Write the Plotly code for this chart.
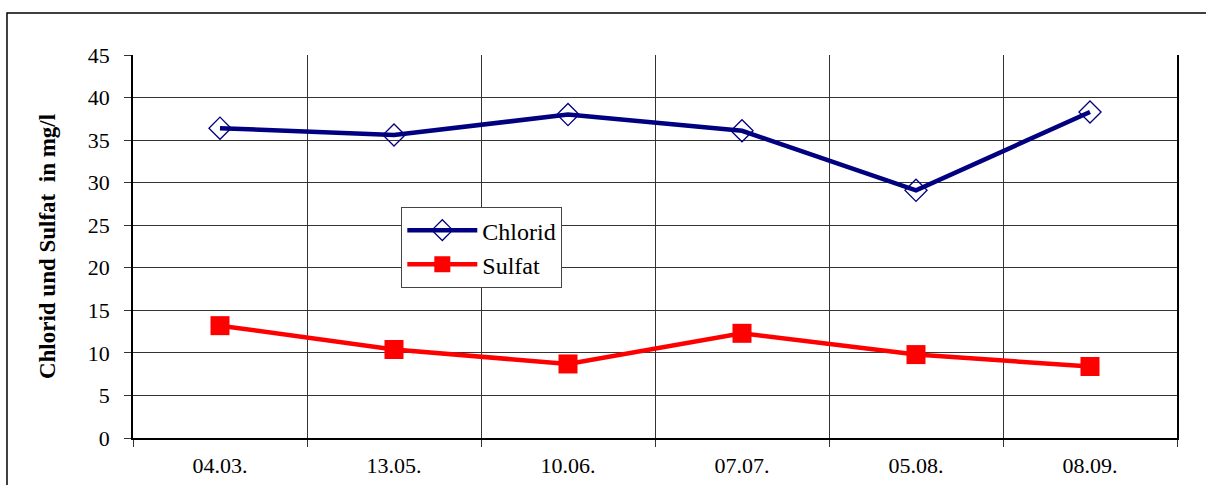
import plotly.graph_objects as go

dates = ["04.03.", "13.05.", "10.06.", "07.07.", "05.08.", "08.09."]
chlorid = [36.4, 35.6, 38.0, 36.1, 29.1, 38.3]
sulfat = [13.2, 10.4, 8.7, 12.3, 9.8, 8.4]

FONT = "Liberation Serif, Times New Roman, serif"

fig = go.Figure()
fig.add_trace(go.Scatter(x=dates, y=chlorid, name="Chlorid", mode="lines+markers",
                         line=dict(color="#000080", width=4.5),
                         marker=dict(symbol="diamond-open", size=17,
                                     color="#000080", line=dict(width=1.3))))
fig.add_trace(go.Scatter(x=dates, y=sulfat, name="Sulfat", mode="lines+markers",
                         line=dict(color="#ff0000", width=4.5),
                         marker=dict(symbol="square", size=19, color="#ff0000")))

# outer chart frame
fig.add_shape(type="rect", xref="paper", yref="paper",
              x0=-0.1207, x1=1.04, y0=-0.2, y1=1.1097,
              line=dict(color="black", width=1.5), layer="below")

fig.update_layout(
    width=1206, height=485,
    margin=dict(l=133, r=29, t=55, b=47),
    paper_bgcolor="white", plot_bgcolor="white",
    font=dict(family=FONT, size=22, color="black"),
    showlegend=True,
    legend=dict(x=0.257, y=0.603, xanchor="left", yanchor="top",
                bgcolor="white", bordercolor="#444", borderwidth=1,
                font=dict(size=24), tracegroupgap=2, itemwidth=70),
    xaxis=dict(type="category", tickson="boundaries", showgrid=True,
               gridcolor="#333", gridwidth=1, ticks="outside", ticklen=7,
               tickcolor="#333", showline=True, linecolor="black", linewidth=1.5,
               range=[-0.5, 5.5], tickfont=dict(size=22), ticklabelstandoff=7,
               automargin=False),
    yaxis=dict(range=[0, 45], dtick=5, showgrid=True, gridcolor="#333",
               gridwidth=1, ticks="outside", ticklen=7, tickcolor="#333",
               showline=True, mirror=True, linecolor="black", linewidth=1.5,
               zeroline=False, tickfont=dict(size=22), ticklabelstandoff=10,
               automargin=False,
               title=dict(text="<b>Chlorid und Sulfat  in mg/l</b>",
                          font=dict(size=23), standoff=26)),
)

fig.write_html("out.html", config={"displayModeBar": False},
               post_script="document.body.style.margin='0';")
